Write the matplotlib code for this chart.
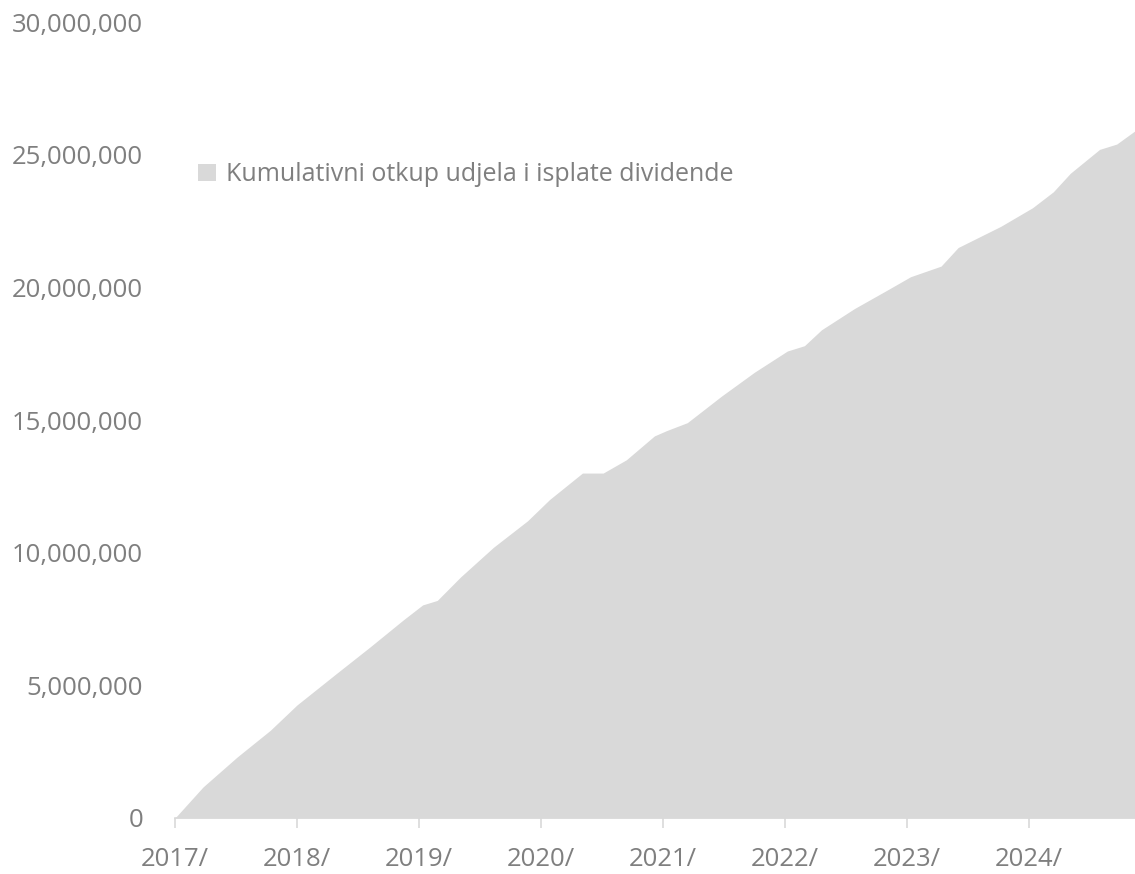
import matplotlib.pyplot as plt
from matplotlib.patches import Patch
from matplotlib.ticker import FuncFormatter

# Readings taken off the chart (decimal year, cumulative amount in millions)
years = [2017.0, 2017.23, 2017.51, 2017.78, 2018.0, 2018.33, 2018.6, 2018.87,
         2019.03, 2019.15, 2019.34, 2019.61, 2019.89, 2020.07, 2020.34, 2020.51,
         2020.7, 2020.93, 2021.03, 2021.2, 2021.48, 2021.75, 2022.02, 2022.16,
         2022.3, 2022.57, 2022.84, 2023.03, 2023.28, 2023.42, 2023.77, 2024.03,
         2024.2, 2024.34, 2024.58, 2024.72, 2024.87]
cumulative_m = [0, 1.17, 2.3, 3.3, 4.26, 5.47, 6.45, 7.46,
                8.03, 8.2, 9.08, 10.2, 11.2, 12.0, 13.0, 13.0,
                13.5, 14.4, 14.6, 14.9, 15.9, 16.8, 17.6, 17.8,
                18.4, 19.2, 19.9, 20.4, 20.8, 21.5, 22.3, 23.0,
                23.6, 24.3, 25.2, 25.4, 25.9]
year_ticks = [2017, 2018, 2019, 2020, 2021, 2022, 2023, 2024]
year_labels = ['2017/', '2018/', '2019/', '2020/', '2021/', '2022/', '2023/', '2024/']
legend_label = 'Kumulativni otkup udjela i isplate dividende'

plt.rcParams['font.family'] = ['Open Sans', 'DejaVu Sans']
fill_col = '#d9d9d9'
text_col = '#7f7f7f'

fig = plt.figure(figsize=(11.35, 8.74), dpi=100)
ax = fig.add_axes([0.1542, 0.0641, 0.8458, 0.9107])

values = [v * 1e6 for v in cumulative_m]
ax.fill_between(years, values, 0, color=fill_col, linewidth=0)

ax.set_xlim(2017.0, 2024.87)
ax.set_ylim(0, 30e6)
ax.set_yticks([0, 5e6, 10e6, 15e6, 20e6, 25e6, 30e6])
ax.yaxis.set_major_formatter(FuncFormatter(lambda v, p: f'{int(v):,}'))
ax.set_xticks(year_ticks)
ax.set_xticklabels(year_labels)

for s in ['left', 'top', 'right']:
    ax.spines[s].set_visible(False)
ax.spines['bottom'].set_color(fill_col)
ax.spines['bottom'].set_linewidth(1.2)

ax.tick_params(axis='y', length=0, pad=23, labelsize=18.5, labelcolor=text_col)
ax.tick_params(axis='x', length=7, width=1.2, color=fill_col, pad=14,
               labelsize=18.5, labelcolor=text_col)

handle = Patch(facecolor=fill_col, edgecolor='none', label=legend_label)
ax.legend(handles=[handle], loc='center left', bbox_to_anchor=(0.1745, 0.80),
          bbox_transform=fig.transFigure, frameon=False, fontsize=18,
          labelcolor=text_col, handlelength=0.72, handleheight=0.72,
          handletextpad=0.4, borderaxespad=0, borderpad=0)

fig.savefig('out.png', dpi=100)
